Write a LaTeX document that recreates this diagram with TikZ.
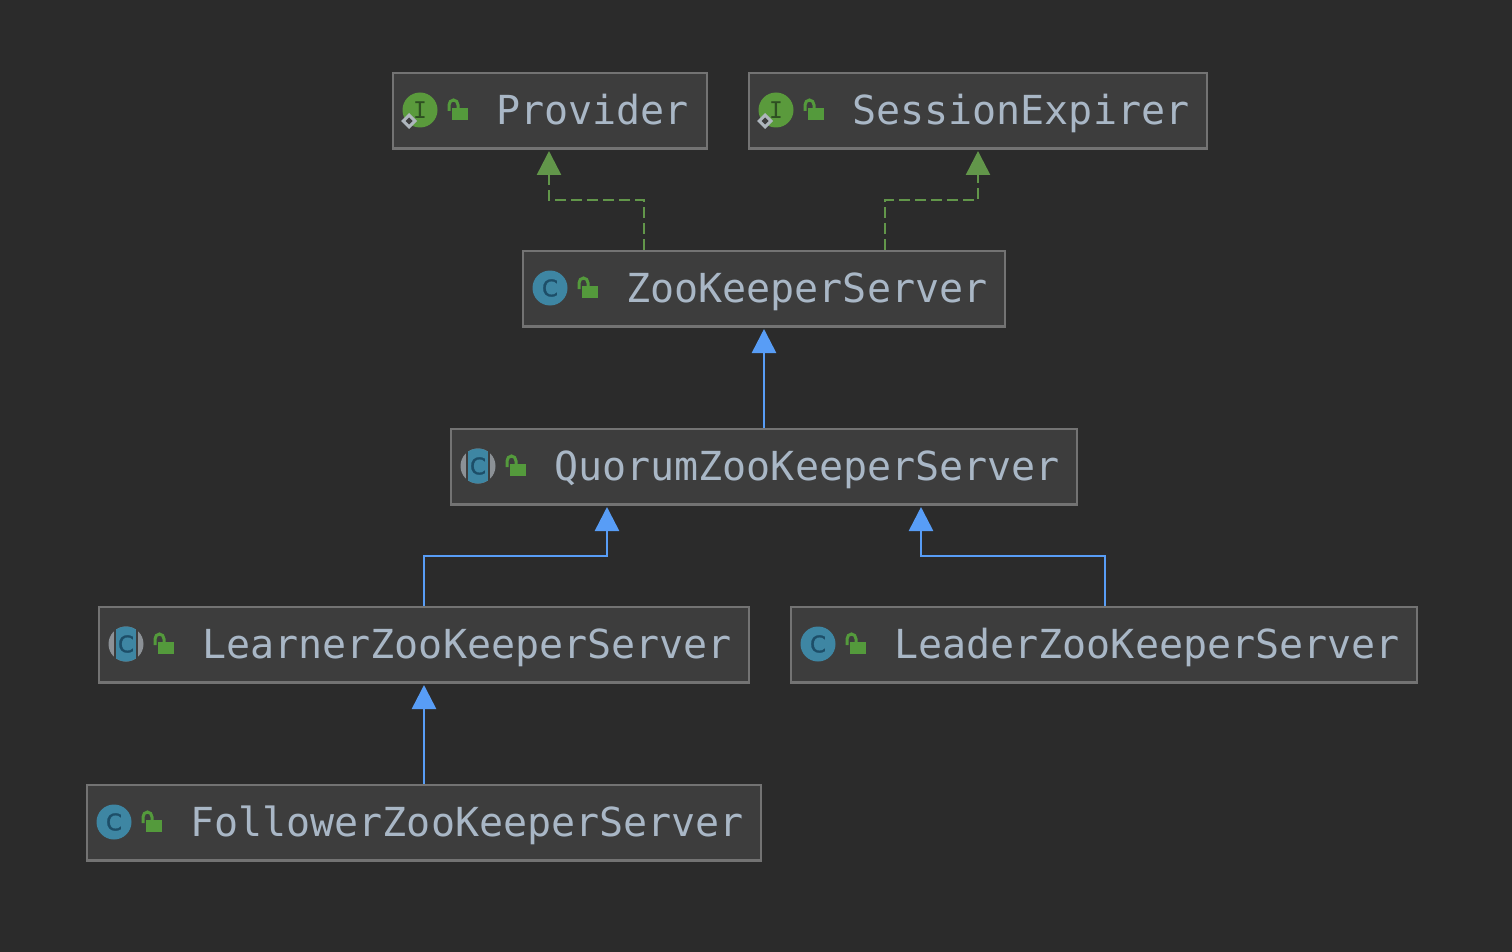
\documentclass[tikz,border=0pt]{standalone}
\usepackage{fontspec}
\setmonofont{DejaVu Sans Mono}
\setsansfont{DejaVu Sans}
\newfontfamily\iconfont[FakeBold=1.2]{DejaVu Sans}
\usetikzlibrary{arrows.meta}
\definecolor{bgc}{HTML}{2B2B2B}
\definecolor{boxfill}{HTML}{3D3D3D}
\definecolor{boxline}{HTML}{737373}
\definecolor{txt}{HTML}{A9B7C6}
\definecolor{blu}{HTML}{589DF6}
\definecolor{grn}{HTML}{62964A}
\definecolor{tealc}{HTML}{3E86A3}
\definecolor{tealdk}{HTML}{1D4E68}
\definecolor{igreen}{HTML}{5A9A3C}
\definecolor{idark}{HTML}{2E4F22}
\definecolor{greyc}{HTML}{8C9196}
\definecolor{lockg}{HTML}{549A3C}
\definecolor{diam}{HTML}{AEB6BD}
\tikzset{
  x=1pt,y=-1pt,
  umlbox/.style={draw=boxline,line width=2.2pt,fill=boxfill,inner sep=0pt,minimum height=75pt},
  umllabel/.style={font=\ttfamily\fontsize{40}{40}\selectfont,text=txt,anchor=base west,inner sep=0pt},
  iconletter/.style={font=\iconfont\fontsize{23}{23}\selectfont,inner sep=0pt},
  extends/.style={draw=blu,line width=2.6pt,-{Triangle[length=24pt,width=24pt,fill=blu]}},
  implements/.style={draw=grn,line width=2.6pt,dash pattern=on 11pt off 5pt,-{Triangle[length=24pt,width=24pt,fill=grn,sep=0pt]}},
}
% #1 name, #2 left, #3 top, #4 right, #5 text
\newcommand{\umlnode}[5]{%
  \node[umlbox,minimum width=#4pt-#2pt] (#1) at ({(#2+#4)/2},{#3+37.5}) {};
  \draw[boxline,line width=2.6pt] (#2-1,#3+76) -- (#4+1,#3+76);
  \node[umllabel] (#1T) at (#2+103,#3+51.3) {#5};
  % lock
  \fill[lockg] (#2+59,#3+35) rectangle (#2+75,#3+47);
  \draw[lockg,line width=3pt] (#2+56,#3+38) -- (#2+56,#3+32) arc[start angle=180,end angle=360,x radius=4.5,y radius=5] -- (#2+65,#3+35);
}
\newcommand{\iconclass}[2]{%
  \fill[tealc] (#1+27,#2+37) circle[radius=17.5];
  \node[iconletter,text=tealdk] at (#1+27,#2+37) {C};
}
\newcommand{\iconabstract}[2]{%
  \fill[greyc] (#1+27,#2+37) circle[radius=17.5];
  \fill[boxfill] (#1+15,#2+19) rectangle (#1+17,#2+55);
  \fill[boxfill] (#1+37,#2+19) rectangle (#1+39,#2+55);
  \begin{scope}
    \clip (#1+27,#2+37) circle[radius=17.5];
    \fill[tealc] (#1+17,#2+19) rectangle (#1+37,#2+55);
  \end{scope}
  \node[iconletter,text=tealdk] at (#1+27,#2+37) {C};
}
\newcommand{\iconinterface}[2]{%
  \fill[igreen] (#1+27,#2+37) circle[radius=17.5];
  \node[iconletter,text=idark,font=\ttfamily\fontsize{23}{23}\selectfont] at (#1+27,#2+37) {I};
  \fill[diam] (#1+16,#2+40) -- (#1+24,#2+48) -- (#1+16,#2+56) -- (#1+8,#2+48) -- cycle;
  \fill[boxfill] (#1+16,#2+44.5) -- (#1+19.5,#2+48) -- (#1+16,#2+51.5) -- (#1+12.5,#2+48) -- cycle;
}
\begin{document}
\begin{tikzpicture}
\useasboundingbox (0,0) rectangle (1512,952);
\fill[bgc] (0,0) rectangle (1512,952);

\umlnode{provider}{393}{73}{707}{Provider}
\iconinterface{393}{73}
\umlnode{expirer}{749}{73}{1207}{SessionExpirer}
\iconinterface{749}{73}
\umlnode{zoo}{523}{251}{1005}{ZooKeeperServer}
\iconclass{523}{251}
\umlnode{quorum}{451}{429}{1077}{QuorumZooKeeperServer}
\iconabstract{451}{429}
\umlnode{learner}{99}{607}{749}{LearnerZooKeeperServer}
\iconabstract{99}{607}
\umlnode{leader}{791}{607}{1417}{LeaderZooKeeperServer}
\iconclass{791}{607}
\umlnode{follower}{87}{785}{761}{FollowerZooKeeperServer}
\iconclass{87}{785}

\coordinate (zooL) at (644,250);
\coordinate (zooR) at (885,250);
\coordinate (provS) at (549,151);
\coordinate (expS) at (978,151);
\coordinate (quoL) at (607,507);
\coordinate (quoR) at (921,507);
\coordinate (lrnN) at (424,606);
\coordinate (ldrN) at (1105,606);
\coordinate (lrnS) at (424,685);
\coordinate (zooS) at (764,329);

\draw[implements] (zooL) -- ++(0,-50) -| (provS);
\draw[implements] (zooR) -- ++(0,-50) -| (expS);
\draw[extends] (quorum.north) -- (zooS);
\draw[extends] (lrnN) -- ++(0,-50) -| (quoL);
\draw[extends] (ldrN) -- ++(0,-50) -| (quoR);
\draw[extends] (follower.north -| lrnS) -- (lrnS);
\end{tikzpicture}
\end{document}
